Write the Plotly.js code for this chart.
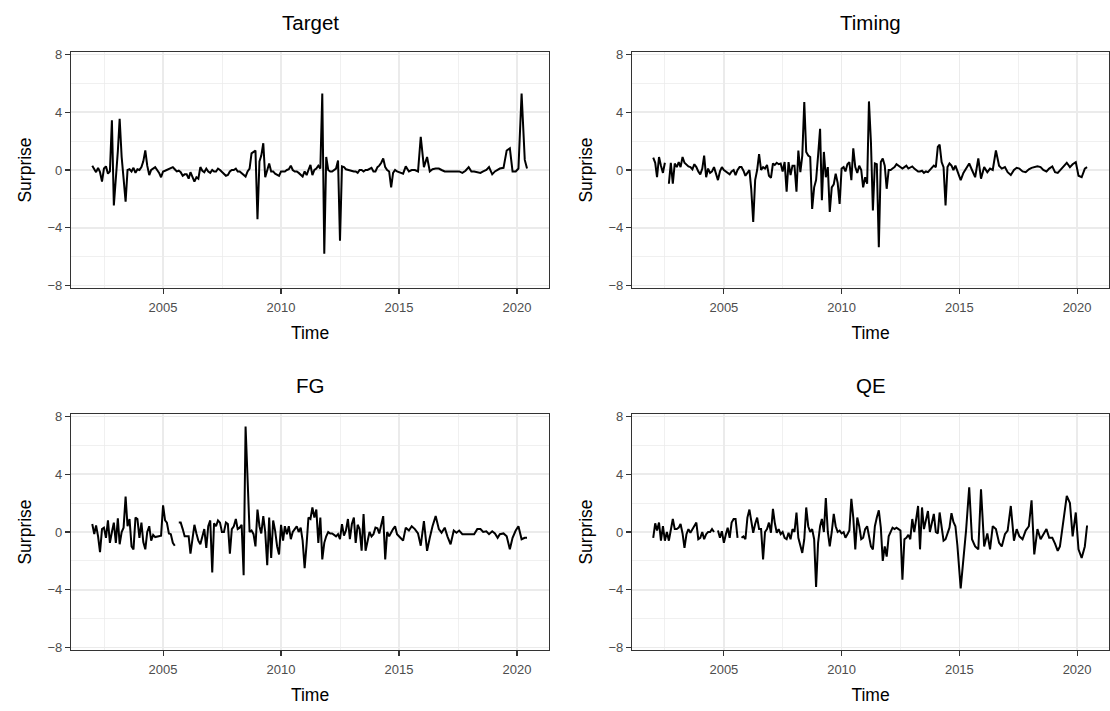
<!DOCTYPE html>
<html>
<head>
<meta charset="utf-8">
<script src="https://cdn.plot.ly/plotly-3.0.1.min.js"></script>
<style>
  html, body { margin: 0; padding: 0; background: #ffffff; }
  #chart { width: 1110px; height: 711px; }
</style>
</head>
<body>
<div id="chart"></div>
<script>
// Meeting dates (monthly 2002-2014, six-weekly 2015-2020)
const dates = [
  '2002-01','2002-02','2002-03','2002-04','2002-05','2002-06','2002-07','2002-08','2002-09','2002-10','2002-11','2002-12',
  '2003-01','2003-02','2003-03','2003-04','2003-05','2003-06','2003-07','2003-08','2003-09','2003-10','2003-11','2003-12',
  '2004-01','2004-02','2004-03','2004-04','2004-05','2004-06','2004-07','2004-08','2004-09','2004-10','2004-11','2004-12',
  '2005-01','2005-02','2005-03','2005-04','2005-05','2005-06','2005-07','2005-08','2005-09','2005-10','2005-11','2005-12',
  '2006-01','2006-02','2006-03','2006-04','2006-05','2006-06','2006-07','2006-08','2006-09','2006-10','2006-11','2006-12',
  '2007-01','2007-02','2007-03','2007-04','2007-05','2007-06','2007-07','2007-08','2007-09','2007-10','2007-11','2007-12',
  '2008-01','2008-02','2008-03','2008-04','2008-05','2008-06','2008-07','2008-08','2008-09','2008-10','2008-11','2008-12',
  '2009-01','2009-02','2009-03','2009-04','2009-05','2009-06','2009-07','2009-08','2009-09','2009-10','2009-11','2009-12',
  '2010-01','2010-02','2010-03','2010-04','2010-05','2010-06','2010-07','2010-08','2010-09','2010-10','2010-11','2010-12',
  '2011-01','2011-02','2011-03','2011-04','2011-05','2011-06','2011-07','2011-08','2011-09','2011-10','2011-11','2011-12',
  '2012-01','2012-02','2012-03','2012-04','2012-05','2012-06','2012-07','2012-08','2012-09','2012-10','2012-11','2012-12',
  '2013-01','2013-02','2013-03','2013-04','2013-05','2013-06','2013-07','2013-08','2013-09','2013-10','2013-11','2013-12',
  '2014-01','2014-02','2014-03','2014-04','2014-05','2014-06','2014-07','2014-08','2014-09','2014-10','2014-11','2014-12',
  '2015-01-22','2015-03-05','2015-04-15','2015-06-03','2015-07-16','2015-09-03','2015-10-22','2015-12-03',
  '2016-01-21','2016-03-10','2016-04-21','2016-06-02','2016-07-21','2016-09-08','2016-10-20','2016-12-08',
  '2017-01-19','2017-03-09','2017-04-27','2017-06-08','2017-07-20','2017-09-07','2017-10-26','2017-12-14',
  '2018-01-25','2018-03-08','2018-04-26','2018-06-14','2018-07-26','2018-09-13','2018-10-25','2018-12-13',
  '2019-01-24','2019-03-07','2019-04-10','2019-06-06','2019-07-25','2019-09-12','2019-10-24','2019-12-12',
  '2020-01-23','2020-03-12','2020-04-30','2020-06-04'
];

const target = [
  0.3, 0.1, -0.15, 0.15, -0.15, -0.8, 0.1, 0.25, -0.25, -0.1, 3.45, -2.45,
  -0.65, 1.3, 3.55, 0.9, -0.6, -2.2, 0, 0.05, -0.1, 0.15, -0.2, 0.05,
  0, 0.2, 0.6, 1.35, 0.3, -0.35, 0, 0.1, 0.2, 0, -0.2, -0.5,
  -0.1, -0.05, 0, 0.1, 0.15, 0.2, 0.05, -0.1, -0.05, -0.15, -0.4, -0.3,
  -0.3, -0.6, -0.15, -0.5, -0.8, -0.5, -0.6, 0.2, -0.05, -0.15, 0.1, -0.1,
  -0.2, 0, -0.1, -0.1, 0.1, 0, -0.15, -0.25, -0.4, -0.35, -0.1, 0,
  0, 0.1, -0.1, -0.1, -0.2, -0.3, -0.45, -0.1, 0.1, 1.15, 1.25, 1.35,
  -3.4, 0.6, 1.0, 1.85, -0.5, 0.1, 0.45, -0.1, -0.1, -0.25, -0.3, -0.4,
  -0.1, -0.1, -0.1, 0, 0.05, 0.3, 0, -0.1, -0.1, -0.2, -0.3, -0.45,
  -0.1, -0.35, 0, 0.35, -0.35, 0, 0.1, 0.3, 0.1, 5.3, -5.8, 0.9,
  0, -0.1, -0.1, 0, 0.1, 0.65, -4.9, 0.25, 0.2, 0.05, 0, 0,
  -0.05, -0.1, -0.1, -0.2, 0, 0, -0.1, 0, 0, 0.1, 0.15, -0.1,
  -0.1, 0.2, 0.3, 0.5, 0.8, 0.2, 0, -0.1, -1.2, -0.2, 0, -0.1,
  -0.2, -0.25, 0.25, -0.1, 0, 0, -0.1, 2.3,
  0.2, 0.9, -0.1, 0.05, 0.1, 0.1, 0, -0.1,
  -0.1, -0.1, -0.1, -0.1, -0.1, -0.2, -0.05, 0.2,
  -0.1, -0.1, -0.15, -0.2, -0.1, 0, 0.2, -0.3,
  -0.1, 0, 0.1, 0.15, 1.35, 1.5, -0.1, -0.1,
  0.1, 5.3, 0.7, 0.1
];

const timing = [
  0.85, 0.5, -0.5, 0.9, 0.3, -0.2, 0.5, null, -0.95, 0.5, -0.95, 0.45,
  0.2, 0.55, 0.2, 0.9, 0.5, 0.35, 0.25, 0.2, 0.05, 0.4, 0.2, -0.1,
  -0.3, 0.1, 1.0, -0.5, 0.1, -0.2, -0.1, 0.2, -0.2, -0.7, -0.1, 0.2,
  0, -0.1, -0.15, -0.3, -0.1, 0, -0.35, 0, 0.2, 0.2, -0.05, -0.4,
  -0.2, 0, -1.3, -3.6, -0.7, 0, 1.1, 0, 0.2, 0.1, 0.35, -0.4,
  -0.55, 0.45, 0.35, 0.5, 0.4, 0.45, -0.1, 0.55, -1.5, 0.55, -0.35, 0.3,
  0.3, -1.5, 1.35, -0.15, 1.0, 4.7, 1.25, 1.0, 0.9, -2.7, -1.2, -0.7,
  1.0, 2.85, -2.1, 1.25, -0.5, 0.2, -2.9, -1.2, -1.0, -0.25, -0.9, -2.35,
  0.1, 0.2, -0.1, 0.4, 0.55, -0.7, 1.5, 0.2, -0.2, 0.3, 0, -1.2,
  -0.5, -0.95, 4.75, 1.9, -2.8, 0.45, 0.4, -5.35, 0.55, 0.8, 0.3, -1.3,
  0, 0, 0.1, 0.2, 0.4, 0.3, 0.15, 0.1, 0.2, 0.3, 0.1, 0.2,
  0.25, 0.1, 0, -0.1, -0.1, -0.05, -0.2, -0.1, -0.15, 0, 0.1, 0.3,
  0.2, 1.6, 1.75, 0.55, 0.2, -2.45, 0.2, 0.45, 0.3, 0, 0.3, -0.1,
  -0.7, -0.2, 0.1, 0.45, 0, -0.5, 0.8, -0.6,
  0.2, -0.15, 0.1, 0, 1.35, 0.3, 0.1, 0.2,
  -0.15, -0.35, 0, 0.15, 0.1, -0.1, -0.15, 0.05,
  0.15, 0.2, 0.25, 0.2, 0, -0.1, 0.1, 0.25,
  -0.15, -0.2, -0.05, 0.25, 0.5, 0.2, 0.4, 0.55,
  -0.4, -0.5, 0.1, 0.2
];

const fg = [
  0.55, -0.15, 0.45, -0.3, -1.4, 0.2, 0.3, -0.4, 0.8, -0.75, 0, 0.65,
  -0.75, 0.95, -0.85, 0, 0.3, 2.45, 0.4, 0.9, -1.0, -1.2, 1.0, 0.9,
  -0.4, 0.65, -0.7, -1.2, 0, 0.4, -0.6, -0.2, -0.35, -0.3, -0.3, -0.25,
  1.85, 0.8, 0.65, -0.1, -0.15, -0.75, -0.95, null, 0.65, 0.65, 0.2, -0.3,
  -0.3, -0.3, -1.5, -0.3, 0.5, -0.1, -0.6, -0.85, -0.4, 0.2, -1.1, 0.4,
  0.8, -2.8, 0.6, 0.4, 0.8, 0.65, 0, 0, 0.65, 0.55, -1.5, 0.2,
  0.4, 0.9, 0.2, 0.3, 0.5, -3.0, 7.3, 3.5, 0, 0.1, -0.15, -1.0,
  1.55, 0.4, -0.1, 1.1, 0, -2.3, 1.0, -1.8, 0.8, 0.1, -1.0, -1.55,
  0.5, -0.6, 0.4, -0.15, 0.4, -0.5, 0, 0.2, 0.4, 0, 0.3, -0.6,
  -2.5, -0.8, 1.0, 0.9, 1.7, 1.0, 1.55, -0.75, 1.0, -1.9, -0.75, -0.3,
  0, -0.1, -0.1, -0.2, -0.3, -0.15, -0.5, 0.55, -0.25, 0.1, 0.9, -0.5,
  0.55, 1.0, -0.75, 0.5, 0.2, -1.3, 1.25, -1.3, -0.6, 0, -0.3, -0.15,
  0.3, 0.25, -0.1, 0.6, 1.1, -1.9, 0, -0.3, 0, 0.2, 0.4, -0.15,
  -0.4, -0.6, 0.3, 0.1, 0.4, 0.2, -0.1, -0.95,
  0.75, -1.3, -0.4, 0.4, 1.1, 0.2, -0.05, 0.3,
  -0.3, -0.85, 0.1, -0.05, 0.1, -0.15, -0.15, -0.15,
  -0.15, -0.15, 0.2, 0.2, 0, 0.05, -0.15, 0.05,
  -0.1, -0.4, -0.15, -0.1, -0.3, -1.2, -0.4, 0.1,
  0.4, -0.5, -0.4, -0.4
];

const qe = [
  -0.4, 0.6, 0.1, 0.65, -0.6, 0.4, -0.6, 0, -0.6, 0.3, 0.9, 0.2,
  0.2, 0.3, 0.55, -0.1, -1.1, -0.15, 0.2, -0.05, 0.2, 0.4, 0.65, -0.5,
  -0.4, 0, -0.5, -0.15, 0, 0, 0.2, 0, null, 0.1, -0.4, 0.05,
  -0.75, -0.15, 0.3, -0.4, 0.65, 0.9, 0.9, -0.4, null, -0.4, -0.3, -0.5,
  1.0, 1.55, 0.65, -0.05, 0.55, 1.0, 0.2, 0.2, -1.9, 0, 0.2, 0.65,
  -0.05, 1.6, 0.65, -0.05, 0.2, -0.15, 0, -0.4, -0.5, -0.05, -0.5, 0.2,
  0, 1.35, -0.4, -1.0, -1.45, -0.5, 1.7, 0.4, 0, 0.2, -0.5, -3.8,
  -0.75, 0.4, 0.9, 0, 2.35, 0, -1.0, 0, 1.25, 0.4, 0, 0.1,
  -0.1, 0, -0.4, -0.15, 0.1, 2.3, 1.0, -1.2, 1.0, 0.4, -0.5, -0.4,
  0.2, 0.4, -0.2, -1.0, -1.2, 0.4, 1.0, 1.5, 0.3, -2.0, -1.0, -1.7,
  -0.3, 0, 0.3, 0.2, 0.3, 0.2, 0.1, -3.3, -0.5, -0.4, -0.2, -0.5,
  0.9, 0, 1.0, 1.8, -1.2, 1.7, 0.2, 0.9, 1.45, 0, 0.6, 1.25,
  0, -0.1, 1.35, 0.2, -0.6, -0.5, -0.15, 0.3, 1.3, 0.7, 0.4, -0.9,
  -3.9, -2.0, 0.1, 3.1, -0.5, -1.0, -1.2, 2.95,
  -1.0, -0.1, -1.2, 0.4, 0.2, -0.75, -1.0, -0.15,
  0.1, 1.8, -0.6, 0.2, -0.3, -0.5, 0.1, 0.4,
  2.2, -1.55, 0.2, -0.5, -0.15, 0.2, -0.4, -0.4,
  -0.8, -1.3, -1.0, 1.0, 2.5, 2.0, -0.3, 1.35,
  -1.2, -1.8, -1.0, 0.45
];

const panelTitles = ['Target', 'Timing', 'FG', 'QE'];
const seriesList = [target, timing, fg, qe];
const yTickVals = [-8, -4, 0, 4, 8];
const yMinorVals = [-6, -2, 2, 6];
const xTickVals = ['2005-01-01', '2010-01-01', '2015-01-01', '2020-01-01'];
const xTickText = ['2005', '2010', '2015', '2020'];
const xMinorVals = ['2002-07-02', '2007-07-02', '2012-07-02', '2017-07-02'];

const W = 1110, H = 711;
const colDom = [[71 / W, 549 / W], [632 / W, 1109 / W]];
const rowDom = [[1 - 288 / H, 1 - 52 / H], [1 - 650 / H, 1 - 414 / H]];

const FONT = 'Liberation Sans, Arimo, Arial, Helvetica, sans-serif';
const INK = '#333333';
const GRID = '#EBEBEB';

const traces = [];
const layout = {
  width: W, height: H,
  margin: { l: 0, r: 0, t: 0, b: 0 },
  paper_bgcolor: '#ffffff',
  plot_bgcolor: '#ffffff',
  showlegend: false,
  font: { family: FONT, color: '#000000' },
  annotations: []
};

for (let i = 0; i < 4; i++) {
  const n = i + 1;
  const col = i % 2, row = Math.floor(i / 2);
  const xa = 'x' + (n === 1 ? '' : n), ya = 'y' + (n === 1 ? '' : n);
  traces.push({
    type: 'scatter', mode: 'lines',
    x: dates, y: seriesList[i],
    xaxis: xa, yaxis: ya,
    line: { color: '#000000', width: 2 },
    connectgaps: false,
    hoverinfo: 'skip'
  });
  layout['xaxis' + (n === 1 ? '' : n)] = {
    type: 'date',
    domain: colDom[col],
    anchor: ya,
    range: ['2001-02-06', '2021-05-10'],
    tickmode: 'array', tickvals: xTickVals, ticktext: xTickText,
    ticks: 'outside', ticklen: 5, tickwidth: 1.1, tickcolor: INK,
    ticklabelstandoff: 2,
    tickfont: { family: FONT, size: 13, color: '#4D4D4D' },
    showline: true, mirror: true, linecolor: INK, linewidth: 1.1,
    showgrid: true, gridcolor: GRID, gridwidth: 1.5,
    minor: { tickmode: 'array', tickvals: xMinorVals, showgrid: true, gridcolor: GRID, gridwidth: 0.75, ticks: '' },
    zeroline: false,
    title: { text: 'Time', font: { family: FONT, size: 17.5, color: '#000000' }, standoff: 13 },
    fixedrange: true
  };
  layout['yaxis' + (n === 1 ? '' : n)] = {
    domain: rowDom[row],
    anchor: xa,
    range: [-8.17, 8.17],
    tickmode: 'array', tickvals: yTickVals,
    ticks: 'outside', ticklen: 5, tickwidth: 1.1, tickcolor: INK,
    tickfont: { family: FONT, size: 13, color: '#4D4D4D' },
    showline: true, mirror: true, linecolor: INK, linewidth: 1.1,
    showgrid: true, gridcolor: GRID, gridwidth: 1.5,
    minor: { tickmode: 'array', tickvals: yMinorVals, showgrid: true, gridcolor: GRID, gridwidth: 0.75, ticks: '' },
    zeroline: false,
    title: { text: 'Surprise', font: { family: FONT, size: 17.5, color: '#000000' }, standoff: 11 },
    fixedrange: true
  };
  layout.annotations.push({
    text: panelTitles[i],
    xref: 'paper', yref: 'paper',
    x: (colDom[col][0] + colDom[col][1]) / 2,
    y: row === 0 ? 1 - 23 / H : 1 - 385 / H,
    xanchor: 'center', yanchor: 'middle',
    showarrow: false,
    font: { family: FONT, size: 20.5, color: '#000000' }
  });
}

Plotly.newPlot('chart', traces, layout, { displayModeBar: false, staticPlot: true, responsive: false });
</script>
</body>
</html>
